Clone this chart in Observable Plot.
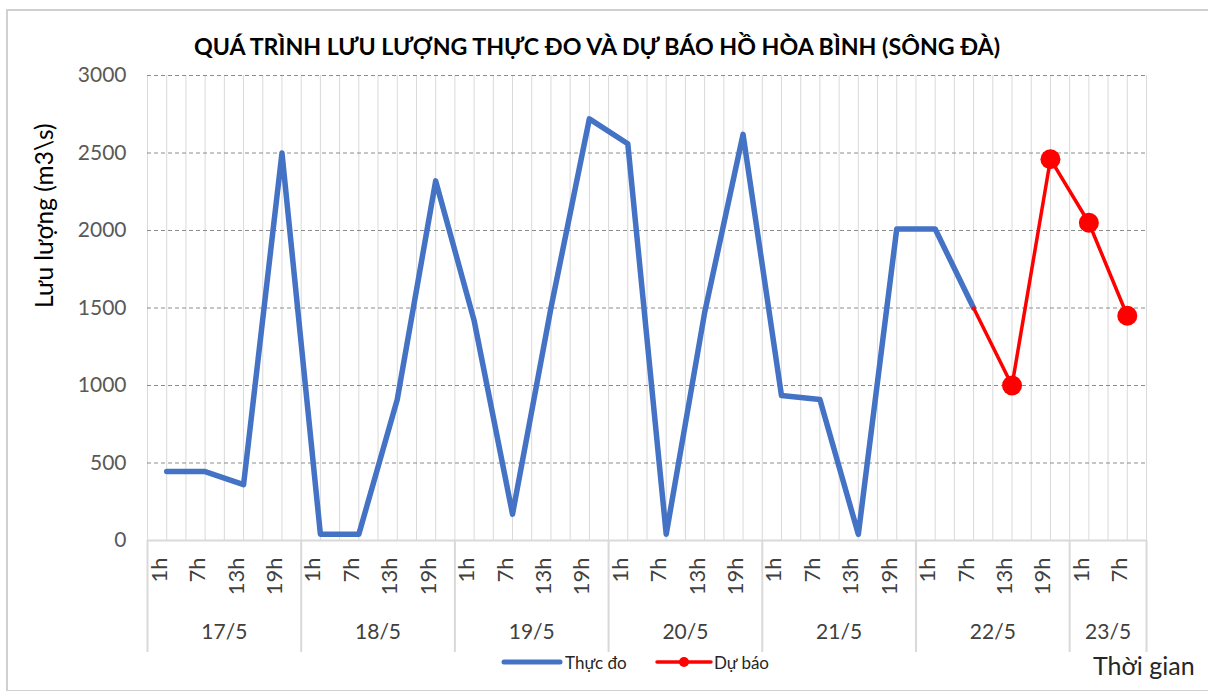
<!DOCTYPE html>
<html>
<head>
<meta charset="utf-8">
<script src="https://cdn.jsdelivr.net/npm/d3@7"></script>
<script src="https://cdn.jsdelivr.net/npm/@observablehq/plot@0.6"></script>
<style>
  body { margin: 0; background: #fff; font-family: Lato, "Open Sans", sans-serif; }
  #wrap { position: relative; width: 1208px; height: 691px; overflow: hidden; background: #fff; }
  #chart svg { display: block; font-family: Lato, sans-serif; }
  #border { position: absolute; left: 6px; top: 9px; width: 1300px; height: 679px; border: 2px solid #d0d0d0; pointer-events: none; }
  #title { position: absolute; top: 31px; left: 0; width: 1194px; text-align: center; font-weight: bold; font-size: 23.2px; line-height: 30px; color: #000; }
  .leg { position: absolute; top: 652px; font-size: 17px; color: #262626; }
  #xtitle { position: absolute; top: 650px; left: 1093px; font-size: 25px; color: #262626; }
</style>
</head>
<body>
<div id="wrap">
  <div id="chart"></div>
  <div id="title"></div>
  <div id="legend"></div>
  <div id="xtitle"></div>
  <div id="border"></div>
</div>
<script>
// ---- Data ----
const titleText = "QUÁ TRÌNH LƯU LƯỢNG THỰC ĐO VÀ DỰ BÁO HỒ HÒA BÌNH (SÔNG ĐÀ)";
const yLabel = "Lưu lượng (m3\\s)";
const xLabel = "Thời gian";
const seriesNames = ["Thực đo", "Dự báo"];
const days = ["17/5", "18/5", "19/5", "20/5", "21/5", "22/5", "23/5"];
const hours = ["1h", "7h", "13h", "19h"];
const hoursPerDay = [4, 4, 4, 4, 4, 4, 2];
const observed = [445, 445, 360, 2500,
                  40, 40, 910, 2320,
                  1420, 170, 1500, 2720,
                  2560, 40, 1470, 2620,
                  935, 910, 40, 2010,
                  2010, 1500];
const forecastStartIndex = 21; // 22/5 7h
const forecast = [1500, 1000, 2460, 2050, 1450];
const yTicks = [0, 500, 1000, 1500, 2000, 2500, 3000];

// ---- Build tables ----
const cats = [];
const dayGroups = [];
days.forEach((d, di) => {
  const start = cats.length;
  for (let h = 0; h < hoursPerDay[di]; h++) cats.push({i: cats.length, day: d, hour: hours[h]});
  dayGroups.push({day: d, start, end: cats.length - 1, mid: (start + cats.length - 1) / 2});
});
const N = cats.length;
const obsRows = observed.map((v, k) => ({i: k, v}));
const fcRows = forecast.map((v, k) => ({i: forecastStartIndex + k, v}));
const gridX = d3.range(0, 2 * N + 1).map(k => -0.5 + k * 0.5);
const boundaries = dayGroups.map(g => g.start - 0.5).concat([N - 0.5]);

const blue = "#4472C4", red = "#FF0000";

const plot = Plot.plot({
  width: 1208,
  height: 655,
  marginLeft: 147,
  marginRight: 62,
  marginTop: 75,
  marginBottom: 115,
  x: {domain: [-0.5, N - 0.5], axis: null},
  y: {domain: [0, 3000], axis: null},
  marks: [
    Plot.ruleX(gridX, {stroke: "#d9d9d9", strokeWidth: 1}),
    Plot.ruleY(yTicks.filter(v => v > 0), {stroke: "#8c8c8c", strokeWidth: 1, strokeDasharray: "4,3"}),
    Plot.ruleX(boundaries, {stroke: "#d9d9d9", strokeWidth: 2, insetTop: 465, insetBottom: -112}),
    Plot.ruleY([0], {stroke: "#d9d9d9", strokeWidth: 2}),
    Plot.text(yTicks, {y: d => d, text: d => String(d), frameAnchor: "left", textAnchor: "end", dx: -21, fontSize: 21, fill: "#595959"}),
    Plot.text([yLabel], {frameAnchor: "left", rotate: -90, dx: -102, fontSize: 24.5, fill: "#000"}),
    Plot.text(cats, {x: "i", text: "hour", frameAnchor: "bottom", rotate: -90, textAnchor: "end", dy: 17, fontSize: 22, fill: "#404040"}),
    Plot.text(dayGroups, {x: "mid", text: "day", frameAnchor: "bottom", dy: 98, fontSize: 21, fill: "#404040"}),
    Plot.line(obsRows, {x: "i", y: "v", stroke: blue, strokeWidth: 5.5, strokeLinejoin: "round", strokeLinecap: "round"}),
    Plot.line(fcRows, {x: "i", y: "v", stroke: red, strokeWidth: 3.5, strokeLinejoin: "round"}),
    Plot.dot(fcRows.slice(1), {x: "i", y: "v", r: 10, fill: red, stroke: "none"})
  ]
});
document.getElementById("chart").appendChild(plot);

document.getElementById("title").textContent = titleText;
document.getElementById("xtitle").textContent = xLabel;

// legend
const legend = document.getElementById("legend");
legend.innerHTML =
  `<svg class="leg" style="left:501px;top:655px" width="62" height="14"><line x1="3" y1="7" x2="59" y2="7" stroke="${blue}" stroke-width="5" stroke-linecap="round"/></svg>` +
  `<div class="leg" style="left:565px">${seriesNames[0]}</div>` +
  `<svg class="leg" style="left:655px;top:655px" width="58" height="14"><line x1="2" y1="7" x2="56" y2="7" stroke="${red}" stroke-width="3.5" stroke-linecap="round"/><circle cx="29" cy="7" r="5" fill="${red}"/></svg>` +
  `<div class="leg" style="left:714px">${seriesNames[1]}</div>`;
</script>
</body>
</html>
